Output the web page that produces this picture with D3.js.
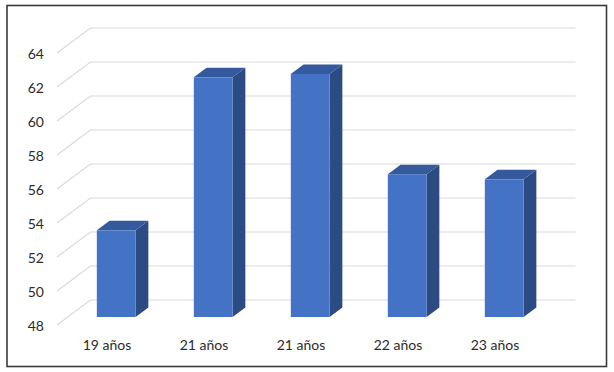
<!DOCTYPE html>
<html>
<head>
<meta charset="utf-8">
<script src="https://cdn.jsdelivr.net/npm/d3@7"></script>
<style>
  html, body { margin: 0; padding: 0; background: #fff; }
  svg { display: block; }
  text { font-family: Lato, "Open Sans", sans-serif; fill: #2b2b2b; }
</style>
</head>
<body>
<svg id="chart" width="614" height="372"></svg>
<script>
const categories = ["19 años", "21 años", "21 años", "22 años", "23 años"];
const values = [53.1, 62.1, 62.3, 56.4, 56.1];
const tickValues = [48, 50, 52, 54, 56, 58, 60, 62, 64];

const svg = d3.select("#chart");

// frame
svg.append("rect")
  .attr("x", 7).attr("y", 5.5)
  .attr("width", 599.5).attr("height", 361)
  .attr("fill", "#fff")
  .attr("stroke", "#3a3a3a")
  .attr("stroke-width", 1.6);

// front-plane scales
const x = d3.scaleBand().domain(d3.range(categories.length)).range([57, 542]).paddingInner(0).paddingOuter(0);
const y = d3.scaleLinear().domain([48, 64]).range([325, 53]);

// depth vector (front of floor -> back wall)
const depth = { dx: 33.5, dy: -25 };
const barFront = 0.32, barBack = 0.70;
const barWidth = x.bandwidth() / 2.5;

// gridlines: diagonal on left wall + horizontal on back wall
const grid = svg.append("g");
tickValues.forEach(v => {
  const y0 = y(v);
  const x0 = x.range()[0];
  const xb = x0 + depth.dx, yb = y0 + depth.dy;
  const xe = x.range()[1] + depth.dx;
  grid.append("path")
    .attr("d", `M${x0},${y0}L${xb},${yb}L${xe},${yb}`)
    .attr("fill", "none")
    .attr("stroke", "#d9d9d9")
    .attr("stroke-width", 1.2);
});

// y tick labels
svg.append("g").selectAll("text").data(tickValues).join("text")
  .attr("x", 44)
  .attr("y", d => y(d) + 0.5)
  .attr("text-anchor", "end")
  .attr("dominant-baseline", "central")
  .attr("font-size", 14)
  .text(d => d);

// bars
const bars = svg.append("g");
values.forEach((v, i) => {
  const cx = x(i) + x.bandwidth() / 2;
  const fx = depth.dx * barFront, fy = depth.dy * barFront;
  const bx = depth.dx * barBack, by = depth.dy * barBack;
  const x0 = cx - barWidth / 2 + fx, x1 = cx + barWidth / 2 + fx;
  const yTop = y(v) + fy, yBot = y(48) + fy;
  const ddx = bx - fx, ddy = by - fy;
  // side face
  bars.append("path")
    .attr("d", `M${x1},${yTop}L${x1 + ddx},${yTop + ddy}L${x1 + ddx},${yBot + ddy}L${x1},${yBot}Z`)
    .attr("fill", "#2d4b83");
  // top face
  bars.append("path")
    .attr("d", `M${x0},${yTop}L${x0 + ddx},${yTop + ddy}L${x1 + ddx},${yTop + ddy}L${x1},${yTop}Z`)
    .attr("fill", "#34599d");
  // front face
  bars.append("rect")
    .attr("x", x0).attr("y", yTop)
    .attr("width", x1 - x0).attr("height", yBot - yTop)
    .attr("fill", "#4472c4");
});

// category labels
svg.append("g").selectAll("text").data(categories).join("text")
  .attr("x", (d, i) => x(i) + x.bandwidth() / 2 + 1.5)
  .attr("y", 344)
  .attr("text-anchor", "middle")
  .attr("dominant-baseline", "central")
  .attr("font-size", 14)
  .text(d => d);
</script>
</body>
</html>
